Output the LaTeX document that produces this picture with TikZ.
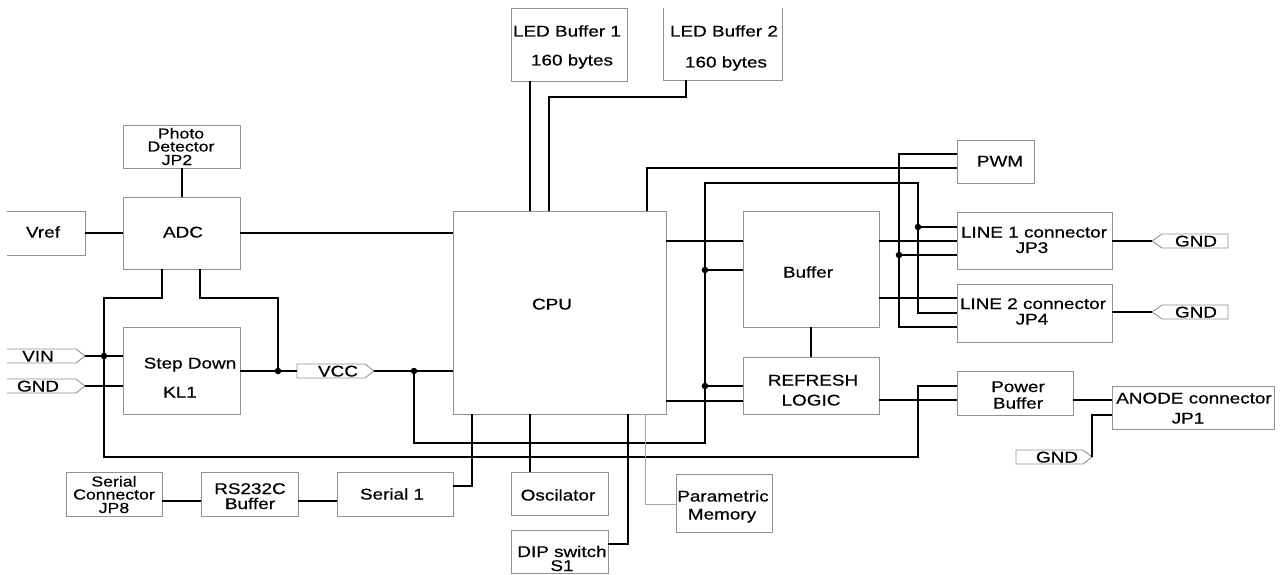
\documentclass[tikz,border=0pt]{standalone}
\usepackage{fontspec}
\newfontfamily\dfont[FakeStretch=1.22,FakeBold=0.5]{Liberation Sans}
\definecolor{boxgray}{RGB}{145,145,145}
\definecolor{wiregray}{RGB}{165,165,165}
\begin{document}
\begin{tikzpicture}[x=1pt,y=-1pt,
  box/.style={draw=boxgray, line width=0.9pt, inner sep=0pt, fill=white},
  openbox/.style={draw=none, inner sep=0pt},
  edge/.style={draw=boxgray, line width=0.9pt},
  txt/.style={font=\dfont\fontsize{15.5}{15}\selectfont, inner sep=0pt, text height=11pt, text depth=0pt, anchor=center},
  smalltxt/.style={txt, font=\dfont\fontsize{14.5}{14}\selectfont, text height=10pt},
  wire/.style={line width=2pt, black},
  thinwire/.style={line width=1.3pt, black},
  graywire/.style={line width=0.9pt, wiregray},
  dot/.style={circle, fill=black, inner sep=0pt, minimum size=6.5pt}
]
\useasboundingbox (0,0) rectangle (1283,575);
\fill[white] (0,0) rectangle (1283,575);

% ---- boxes ----
\node[box, minimum width=117pt, minimum height=43pt] (photo) at (181.5,146.5) {};
\node[box, minimum width=117pt, minimum height=72pt] (adc) at (181.5,233) {};
\node[openbox, minimum width=78pt, minimum height=43pt] (vref) at (46,233.5) {};
\draw[edge] (vref.north west) -- (vref.north east) -- (vref.south east) -- (vref.south west);
\node[box, minimum width=117pt, minimum height=87pt] (sd) at (181.5,370.5) {};
\node[box, minimum width=116pt, minimum height=73pt] (led1) at (569,44.5) {};
\node[openbox, minimum width=118pt, minimum height=72pt] (led2) at (723,44) {};
\draw[edge] (led2.north west) |- (led2.south east) -- (led2.north east);
\node[box, minimum width=213pt, minimum height=203pt] (cpu) at (559.5,312.5) {};
\node[box, minimum width=136pt, minimum height=116pt] (buf) at (811,269) {};
\node[box, minimum width=136pt, minimum height=57pt] (ref) at (811,385.5) {};
\node[box, minimum width=77pt, minimum height=43pt] (pwm) at (995.5,161.5) {};
\node[box, minimum width=155pt, minimum height=57pt] (l1) at (1034.5,240.5) {};
\node[box, minimum width=155pt, minimum height=58pt] (l2) at (1034.5,313) {};
\node[box, minimum width=116pt, minimum height=44pt] (pb) at (1015,393) {};
\node[box, minimum width=162pt, minimum height=43pt] (anode) at (1193,407.5) {};
\node[box, minimum width=96pt, minimum height=44pt] (jp8) at (114,494) {};
\node[box, minimum width=97pt, minimum height=44pt] (rs) at (249.5,494) {};
\node[box, minimum width=116pt, minimum height=44pt] (ser1) at (395,494) {};
\node[box, minimum width=97pt, minimum height=43pt] (osc) at (559.5,493.5) {};
\node[box, minimum width=97pt, minimum height=43pt] (dip) at (559.5,551.5) {};
\node[box, minimum width=96pt, minimum height=58pt] (pm) at (724,503) {};

% ---- signal tags ----
\coordinate (vin) at (85,356);
\coordinate (gndl) at (85,386);
\coordinate (vccin) at (297,371);
\coordinate (vccout) at (374,371);
\coordinate (gnd1) at (1152,241);
\coordinate (gnd2) at (1152,312);
\coordinate (gnd3) at (1092,457);
\draw[edge] (7,349) -- (76,349) -- (vin) -- (76,363) -- (7,363);
\draw[edge] (7,379) -- (76,379) -- (gndl) -- (76,393) -- (7,393);
\draw[edge] (vccin) -- (297,364) -- (365,364) -- (vccout) -- (365,378) -- (297,378) -- cycle;
\draw[edge] (gnd1) -- (1162,234) -- (1228,234) -- (1228,248) -- (1162,248) -- cycle;
\draw[edge] (gnd2) -- (1162,305) -- (1228,305) -- (1228,319) -- (1162,319) -- cycle;
\draw[edge] (gnd3) -- (1083,450) -- (1016,450) -- (1016,464) -- (1083,464) -- cycle;

% ---- texts ----
\node[smalltxt] (t-ph1) at (181,133.5) {Photo};
\node[smalltxt] (t-ph2) at (181,146.5) {Detector};
\node[smalltxt] (t-ph3) at (177,160) {JP2};
\node[txt] (t-adc) at (183,232) {ADC};
\node[txt] (t-vref) at (43,232) {Vref};
\node[txt] (t-sd1) at (190,363) {Step Down};
\node[txt] (t-sd2) at (180,392) {KL1};
\node[txt] (t-vin) at (38,356) {VIN};
\node[txt] (t-gndl) at (38,386) {GND};
\node[txt] (t-vcc) at (338,371) {VCC};
\node[txt] (t-led1a) at (567,31) {LED Buffer 1};
\node[txt] (t-led1b) at (572,60) {160 bytes};
\node[txt] (t-led2a) at (724,31) {LED Buffer 2};
\node[txt] (t-led2b) at (726,62) {160 bytes};
\node[txt] (t-cpu) at (552,304) {CPU};
\node[txt] (t-buf) at (808,272) {Buffer};
\node[txt] (t-ref1) at (813,380) {REFRESH};
\node[txt] (t-ref2) at (811,400) {LOGIC};
\node[txt] (t-pwm) at (1000,161) {PWM};
\node[txt] (t-l1a) at (1034,232) {LINE 1 connector};
\node[txt] (t-l1b) at (1032,247.5) {JP3};
\node[txt] (t-l2a) at (1033,303.5) {LINE 2 connector};
\node[txt] (t-l2b) at (1032,319) {JP4};
\node[txt] (t-g1) at (1196,241) {GND};
\node[txt] (t-g2) at (1196,312) {GND};
\node[txt] (t-pb1) at (1018,386.5) {Power};
\node[txt] (t-pb2) at (1018,403) {Buffer};
\node[txt] (t-an1) at (1194,398) {ANODE connector};
\node[txt] (t-an2) at (1188,418) {JP1};
\node[txt] (t-g3) at (1057,457) {GND};
\node[smalltxt] (t-jp8a) at (114,481.5) {Serial};
\node[smalltxt] (t-jp8b) at (114,494.5) {Connector};
\node[smalltxt] (t-jp8c) at (114,508) {JP8};
\node[txt] (t-rs1) at (250,488.5) {RS232C};
\node[txt] (t-rs2) at (250,503.5) {Buffer};
\node[txt] (t-ser) at (392,494) {Serial 1};
\node[txt] (t-osc) at (558,495) {Oscilator};
\node[txt] (t-dip1) at (562,551.5) {DIP switch};
\node[txt] (t-dip2) at (562,565.5) {S1};
\node[txt] (t-pm1) at (723,496) {Parametric};
\node[txt] (t-pm2) at (722,514) {Memory};

% ---- junctions ----
\coordinate (j-vin) at (104,356);
\coordinate (j-sd) at (278,371);
\coordinate (j-vcc) at (414,371);
\coordinate (j-buf) at (705,270);
\coordinate (j-ref) at (705,386);
\coordinate (j-l1a) at (918,227);
\coordinate (j-l1b) at (899,255);

% ---- connectors ----
\draw[wire] (photo.south) -- (adc.north);
\draw[wire] (vref.east |- 0,233) -- (adc.west);
\draw[wire] (adc.east) -- (cpu.west |- adc.east);
\draw[thinwire] (vin) -- (sd.west |- vin);
\draw[thinwire] (gndl) -- (sd.west |- gndl);
\draw[wire] (162,0 |- adc.south) -- (162,298) -- (104,298) -- (104,457) -- (918,457) -- (918,386) -- (pb.west |- 0,386);
\draw[wire] (200,0 |- adc.south) -- (200,298) -- (278,298) -- (j-sd);
\draw[wire] (sd.east |- vccin) -- (vccin);
\draw[wire] (vccout) -- (cpu.west |- vccout);
\draw[wire] (j-vcc) -- (414,443) -- (705,443) -- (705,183) -- (918,183) -- (918,313) -- (l2.west |- 0,313);
\draw[wire] (j-l1a) -- (l1.west |- j-l1a);
\draw[wire] (j-buf) -- (buf.west |- j-buf);
\draw[wire] (j-ref) -- (ref.west |- j-ref);
\draw[wire] (530,0 |- cpu.north) -- (530,0 |- led1.south);
\draw[wire] (686,0 |- led2.south) -- (686,97) -- (549,97) -- (549,0 |- cpu.north);
\draw[wire] (647,0 |- cpu.north) -- (647,168) -- (pwm.west |- 0,168);
\draw[wire] (pwm.west |- 0,154) -- (899,154) -- (899,327) -- (l2.west |- 0,327);
\draw[wire] (j-l1b) -- (l1.west |- j-l1b);
\draw[wire] (cpu.east |- 0,241) -- (buf.west |- 0,241);
\draw[wire] (buf.east |- 0,241) -- (l1.west |- 0,241);
\draw[wire] (buf.east |- 0,298) -- (l2.west |- 0,298);
\draw[wire] (cpu.east |- 0,401) -- (ref.west |- 0,401);
\draw[wire] (ref.east |- 0,400) -- (pb.west |- 0,400);
\draw[wire] (buf.south) -- (ref.north);
\draw[wire] (pb.east |- 0,400) -- (anode.west |- 0,400);
\draw[wire] (gnd3) -- (1092,415) -- (anode.west |- 0,415);
\draw[wire] (l1.east |- gnd1) -- (gnd1);
\draw[wire] (l2.east |- gnd2) -- (gnd2);
\draw[thinwire] (jp8.east |- 0,501) -- (rs.west |- 0,501);
\draw[thinwire] (rs.east |- 0,501) -- (ser1.west |- 0,501);
\draw[thinwire] (ser1.east |- 0,486) -- (472,486) -- (472,0 |- cpu.south);
\draw[wire] (530,0 |- cpu.south) -- (530,0 |- osc.north);
\draw[wire] (dip.east |- 0,544) -- (628,544) -- (628,0 |- cpu.south);
\draw[graywire] (645,0 |- cpu.south) -- (645,504) -- (pm.west |- 0,504);

% ---- dots ----
\foreach \j in {j-vin,j-sd,j-vcc,j-buf,j-ref,j-l1a,j-l1b}
  \node[dot] at (\j) {};
\end{tikzpicture}
\end{document}
